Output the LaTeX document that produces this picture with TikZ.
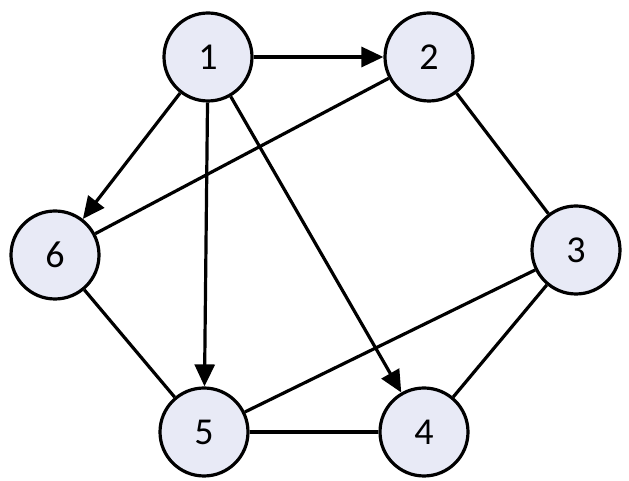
\documentclass[tikz,border=0pt]{standalone}
\usepackage{fontspec}
\setmainfont{Carlito}
\usetikzlibrary{arrows.meta}
\definecolor{nodefill}{HTML}{E8EAF6}
\begin{document}
\begin{tikzpicture}[x=1pt,y=1pt,
  vert/.style={circle,draw=black,line width=3.2pt,fill=nodefill,minimum size=88pt,inner sep=0pt,font=\fontsize{38}{38}\selectfont},
  edge/.style={line width=3.2pt},
  arc/.style={line width=3.2pt,-{Triangle[length=22pt,width=20pt]}}]
\useasboundingbox (0,0) rectangle (629,481);
\node[vert] (n1) at (208,424) {1};
\node[vert] (n2) at (429,424) {2};
\node[vert] (n3) at (576,231) {3};
\node[vert] (n4) at (424,49) {4};
\node[vert] (n5) at (204,49) {5};
\node[vert] (n6) at (55,226) {6};
\draw[arc] (n1) -- (n2);
\draw[arc] (n1) -- (n6);
\draw[arc] (n1) -- (n5);
\draw[arc] (n1) -- (n4);
\draw[edge] (n2) -- (n6);
\draw[edge] (n2) -- (n3);
\draw[edge] (n3) -- (n5);
\draw[edge] (n3) -- (n4);
\draw[edge] (n5) -- (n4);
\draw[edge] (n6) -- (n5);
\end{tikzpicture}
\end{document}
